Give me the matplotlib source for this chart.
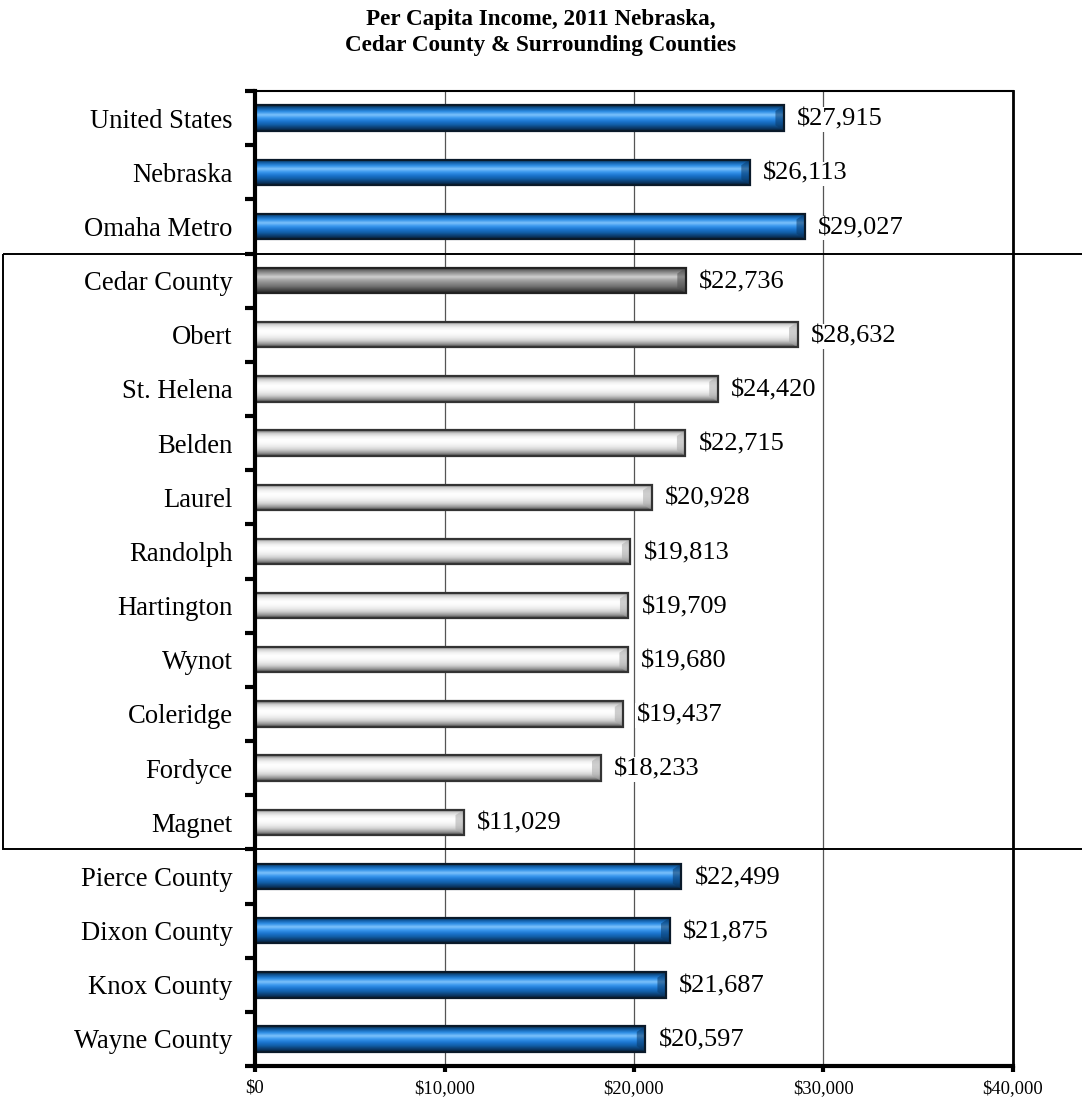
import numpy as np
import matplotlib
matplotlib.use("Agg")
import matplotlib.pyplot as plt
from matplotlib.colors import LinearSegmentedColormap
from matplotlib.patches import Rectangle, Polygon
import matplotlib.transforms as mtransforms

plt.rcParams["font.family"] = ["Liberation Serif", "DejaVu Serif"]

places = ["United States", "Nebraska", "Omaha Metro", "Cedar County", "Obert",
          "St. Helena", "Belden", "Laurel", "Randolph", "Hartington", "Wynot",
          "Coleridge", "Fordyce", "Magnet", "Pierce County", "Dixon County",
          "Knox County", "Wayne County"]
income = [27915, 26113, 29027, 22736, 28632, 24420, 22715, 20928, 19813,
          19709, 19680, 19437, 18233, 11029, 22499, 21875, 21687, 20597]
# bar style group for each row
groups = ["blue"] * 3 + ["gray"] + ["white"] * 10 + ["blue"] * 4
xticks = [0, 10000, 20000, 30000, 40000]

# gradient profiles across bar thickness, top -> bottom
profiles = {
    "blue": ["#0b2a48", "#125ea6", "#2f8ee6", "#7cc2fb", "#3a98ee", "#1c76d0", "#1260aa", "#0c3f72", "#071f38"],
    "gray": ["#2e2e2e", "#6e6e6e", "#a0a0a0", "#cfcfcf", "#a6a6a6", "#8a8a8a", "#707070", "#4a4a4a", "#252525"],
    "white": ["#6a6a6a", "#cfcfcf", "#f2f2f2", "#ffffff", "#fafafa", "#ececec", "#d2d2d2", "#9c9c9c", "#4a4a4a"],
}
edge = {"blue": "#0a1a2a", "gray": "#222222", "white": "#333333"}
cap = {"blue": "#0a3a6a", "gray": "#505050", "white": "#a8a8a8"}

fig = plt.figure(figsize=(10.82, 10.99), dpi=100)
ax = fig.add_axes([0.2357, 0.0300, 0.7005, 0.8872])

n = len(places)
h = 0.47
ypos = np.arange(n)
for y, v, g in zip(ypos, income, groups):
    cmap = LinearSegmentedColormap.from_list(g, profiles[g])
    grad = np.linspace(0, 1, 60).reshape(-1, 1)
    ax.imshow(grad, cmap=cmap, aspect="auto", origin="upper",
              extent=(0, v, y + h / 2, y - h / 2), zorder=3, interpolation="bilinear")
    d = 450
    e = h * 0.22
    ax.add_patch(Polygon([(v - d, y - h / 2 + e), (v, y - h / 2), (v, y + h / 2),
                          (v - d, y + h / 2 - e)], closed=True, facecolor=cap[g],
                         alpha=0.55, edgecolor="none", zorder=3.5))
ax.barh(ypos, income, height=h, facecolor="none", edgecolor=[edge[g] for g in groups],
        linewidth=1.6, zorder=4)

for y, v in zip(ypos, income):
    ax.text(v + 700, y + 0.03, f"${v:,}", va="center", ha="left", fontsize=19, zorder=5,
            bbox=dict(facecolor="white", edgecolor="none", pad=1.0))

ax.set_xlim(0, 40000)
ax.set_ylim(n - 0.5, -0.5)
ax.set_xticks(xticks)
ax.set_xticklabels([f"${t:,}" for t in xticks], fontsize=13.3)
ax.set_yticks(ypos)
ax.set_yticklabels(places, fontsize=19.2)
ax.set_yticks(np.arange(n + 1) - 0.5, minor=True)
ax.tick_params(axis="y", which="major", length=0, pad=16)
ax.tick_params(axis="y", which="minor", length=7, width=3, direction="out")
ax.tick_params(axis="x", which="major", length=4, width=3, direction="out", pad=6)
ax.xaxis.grid(True, color="#555555", linewidth=0.9, zorder=1)
ax.set_axisbelow(True)

ax.spines["left"].set_linewidth(3)
ax.spines["bottom"].set_linewidth(3)
ax.spines["top"].set_linewidth(1.5)
ax.spines["right"].set_linewidth(2)
for s in ax.spines.values():
    s.set_zorder(6)

# box around Cedar County and its towns
trans = mtransforms.blended_transform_factory(fig.transFigure, ax.transData)
ax.add_patch(Rectangle((0.003, 2.5), 1.2, 11, transform=trans, fill=False,
                       edgecolor="black", linewidth=1.4, clip_on=False, zorder=6))

fig.text(0.5, 0.9705, "Per Capita Income, 2011 Nebraska,\nCedar County & Surrounding Counties",
         ha="center", va="center", fontsize=16.7, fontweight="bold", linespacing=1.32)

fig.savefig("out.png", dpi=100)
